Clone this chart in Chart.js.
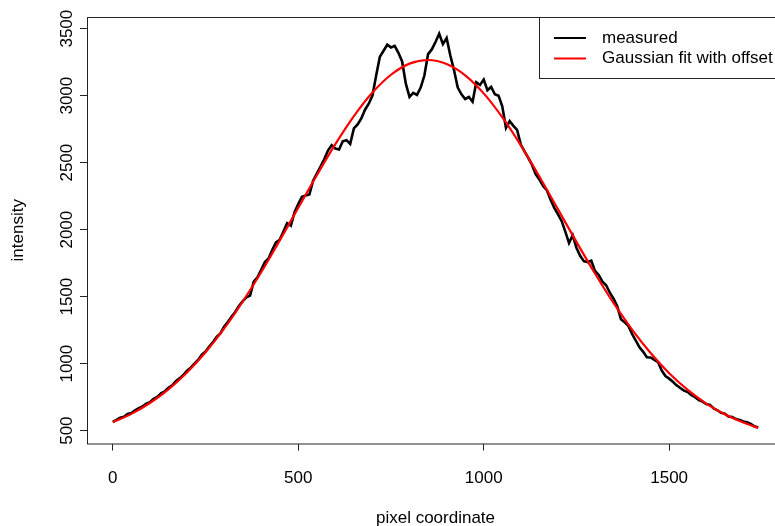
<!DOCTYPE html>
<html>
<head>
<meta charset="utf-8">
<title>Intensity profile</title>
<script src="https://cdn.jsdelivr.net/npm/chart.js@4.4.1/dist/chart.umd.min.js"></script>
<style>
  html, body { margin: 0; padding: 0; background: #fff; overflow: hidden; }
  #wrap { width: 800px; height: 526px; }
</style>
</head>
<body>
<div id="wrap"><canvas id="profile" width="800" height="526"></canvas></div>
<script>
// measured intensity, one value every 10 pixels from 0 to 1740
const pixelStep = 10;
const measured = [
  565, 580, 596, 604, 625, 632, 652, 668, 680, 702,
  712, 738, 752, 778, 792, 820, 838, 868, 890, 915,
  948, 970, 1000, 1028, 1068, 1090, 1128, 1160, 1200, 1225,
  1275, 1310, 1350, 1385, 1430, 1465, 1495, 1508, 1612, 1645,
  1700, 1758, 1785, 1850, 1905, 1925, 1985, 2048, 2030, 2130,
  2190, 2245, 2255, 2262, 2365, 2418, 2470, 2525, 2590, 2630,
  2605, 2598, 2660, 2668, 2640, 2755, 2785, 2830, 2895, 2940,
  3000, 3150, 3290, 3335, 3380, 3360, 3372, 3320, 3255, 3090,
  2990, 3020, 3005, 3060, 3150, 3310, 3345, 3400, 3462, 3385,
  3430, 3300, 3190, 3060, 3010, 2975, 2990, 2955, 3100, 3080,
  3120, 3040, 3065, 3010, 3000, 2920, 2760, 2810, 2775, 2745,
  2635, 2585, 2535, 2485, 2415, 2375, 2325, 2295, 2225, 2165,
  2115, 2065, 1985, 1900, 1958, 1865, 1805, 1765, 1758, 1768,
  1692, 1662, 1612, 1585, 1530, 1485, 1428, 1332, 1308, 1282,
  1222, 1172, 1122, 1088, 1048, 1046, 1028, 1012, 948, 908,
  888, 865, 838, 818, 798, 788, 764, 750, 728, 717,
  698, 692, 666, 652, 633, 627, 606, 602, 586, 580,
  568, 562, 550, 532, 524
];

// fitted curve, sampled along the profile
const fitX = [0, 50, 100, 150, 200, 250, 300, 350, 400, 450, 500, 550, 600, 650,
  700, 750, 800, 850, 900, 950, 1000, 1050, 1100, 1150, 1200, 1250, 1300,
  1350, 1400, 1450, 1500, 1550, 1600, 1650, 1700, 1740];
const fitY = [562, 625, 706, 808, 934, 1085, 1261, 1462, 1682, 1919, 2163, 2406,
  2638, 2847, 3023, 3156, 3239, 3266, 3236, 3152, 3017, 2839, 2629, 2397,
  2153, 1909, 1673, 1453, 1254, 1079, 928, 804, 702, 622, 560, 521];

const xTicks = [0, 500, 1000, 1500];
const yTicks = [500, 1000, 1500, 2000, 2500, 3000, 3500];

const seriesNames = ['measured', 'Gaussian fit with offset'];
const seriesColors = ['#000000', '#ff0000'];

const FONT = '17px "Liberation Sans", Arial, sans-serif';

const measuredPts = measured.map((v, i) => ({ x: i * pixelStep, y: v }));
const fitPts = fitX.map((x, i) => ({ x: x, y: fitY[i] }));

// box, tick labels, axis titles and legend in the base-graphics look
const framePlugin = {
  id: 'frame',
  afterDraw(chart) {
    const ctx = chart.ctx;
    const a = chart.chartArea;
    const xs = chart.scales.x;
    const ys = chart.scales.y;
    ctx.save();
    ctx.strokeStyle = '#222';
    ctx.lineWidth = 1;
    ctx.strokeRect(a.left + 0.5, a.top + 0.5, a.right - a.left, a.bottom - a.top);

    ctx.fillStyle = '#000';
    ctx.font = FONT;
    ctx.textAlign = 'center';
    ctx.textBaseline = 'middle';
    xTicks.forEach(v => ctx.fillText(String(v), xs.getPixelForValue(v), 478));
    ctx.fillText('pixel coordinate', (a.left + a.right) / 2, 518);

    yTicks.forEach(v => {
      ctx.save();
      ctx.translate(67, ys.getPixelForValue(v));
      ctx.rotate(-Math.PI / 2);
      ctx.fillText(String(v), 0, 0);
      ctx.restore();
    });
    ctx.save();
    ctx.translate(18, (a.top + a.bottom) / 2);
    ctx.rotate(-Math.PI / 2);
    ctx.fillText('intensity', 0, 0);
    ctx.restore();

    // legend in the top right corner
    const lx = 539, ly = a.top, lw = a.right - lx, lh = 61;
    ctx.fillStyle = '#fff';
    ctx.fillRect(lx, ly, lw, lh);
    ctx.strokeStyle = '#222';
    ctx.strokeRect(lx + 0.5, ly + 0.5, lw, lh);
    ctx.textAlign = 'left';
    seriesNames.forEach((name, i) => {
      const yy = ly + 21 + i * 20.5;
      ctx.strokeStyle = seriesColors[i];
      ctx.lineWidth = 2;
      ctx.beginPath();
      ctx.moveTo(554, yy);
      ctx.lineTo(586, yy);
      ctx.stroke();
      ctx.fillStyle = '#000';
      ctx.fillText(name, 602, yy);
    });
    ctx.restore();
  }
};

const axisGrid = { drawOnChartArea: false, drawTicks: true, tickLength: 7, color: '#222', lineWidth: 1 };

new Chart(document.getElementById('profile').getContext('2d'), {
  type: 'scatter',
  data: {
    datasets: [{
      label: seriesNames[1],
      data: fitPts,
      showLine: true,
      borderColor: seriesColors[1],
      borderWidth: 2.2,
      pointRadius: 0,
      cubicInterpolationMode: 'monotone'
    }, {
      label: seriesNames[0],
      data: measuredPts,
      showLine: true,
      borderColor: seriesColors[0],
      borderWidth: 2.6,
      pointRadius: 0,
      tension: 0
    }]
  },
  options: {
    responsive: false,
    animation: false,
    events: [],
    layout: { padding: { top: 17, right: 16, left: 0, bottom: 0 } },
    plugins: { legend: { display: false }, tooltip: { enabled: false } },
    scales: {
      x: {
        type: 'linear',
        min: -69.6,
        max: 1809.6,
        afterBuildTicks: s => { s.ticks = xTicks.map(v => ({ value: v })); },
        afterFit: s => { s.height = 82.5; },
        ticks: { display: false },
        grid: axisGrid,
        border: { display: false }
      },
      y: {
        type: 'linear',
        min: 404,
        max: 3587,
        afterBuildTicks: s => { s.ticks = yTicks.map(v => ({ value: v })); },
        afterFit: s => { s.width = 87; },
        ticks: { display: false },
        grid: axisGrid,
        border: { display: false }
      }
    }
  },
  plugins: [framePlugin]
});
</script>
</body>
</html>
